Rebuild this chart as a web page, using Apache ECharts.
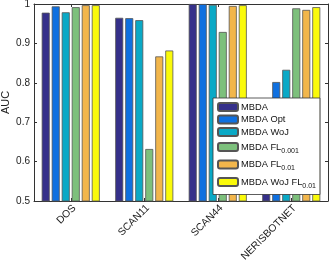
<!DOCTYPE html>
<html><head><meta charset="utf-8">
<script src="https://cdn.jsdelivr.net/npm/echarts@6/dist/echarts.min.js"></script>
<style>html,body{margin:0;padding:0;background:#fff}#c{width:332px;height:268px}</style>
</head><body><div id="c"></div>
<script>
var categories = ['DOS', 'SCAN11', 'SCAN44', 'NERISBOTNET'];
var seriesNames = ['MBDA', 'MBDA Opt', 'MBDA WoJ', 'MBDA FL0.001', 'MBDA FL0.01', 'MBDA WoJ FL0.01'];
var mbda      = [0.978, 0.965, 1.000, 0.760];
var mbdaOpt   = [0.994, 0.964, 1.000, 0.802];
var mbdaWoJ   = [0.979, 0.959, 0.998, 0.833];
var mbdaFL001 = [0.992, 0.632, 0.929, 0.989];
var mbdaFL01  = [0.997, 0.867, 0.995, 0.985];
var mbdaWoJFL01 = [0.997, 0.882, 0.997, 0.992];
var yTicks = [0.5, 0.6, 0.7, 0.8, 0.9, 1];
var values = [mbda, mbdaOpt, mbdaWoJ, mbdaFL001, mbdaFL01, mbdaWoJFL01];
var colors = ['#35308a', '#0f70e0', '#0aa9c6', '#7dc07c', '#f2b64b', '#fafa0a'];
var legendText = {
  'MBDA': '{a|MBDA}',
  'MBDA Opt': '{a|MBDA Opt}',
  'MBDA WoJ': '{a|MBDA WoJ}',
  'MBDA FL0.001': '{a|MBDA FL}{s|0.001}',
  'MBDA FL0.01': '{a|MBDA FL}{s|0.01}',
  'MBDA WoJ FL0.01': '{a|MBDA WoJ FL}{s|0.01}'
};
var font = 'Liberation Sans, Arial, sans-serif';
var chart = echarts.init(document.getElementById('c'), null, {renderer: 'canvas'});
var series = seriesNames.map(function (n, i) {
  return {
    name: n, type: 'bar', data: values[i],
    barGap: '25%', barCategoryGap: '21%',
    itemStyle: {color: colors[i], borderColor: '#555', borderWidth: 0.8}
  };
});
chart.setOption({
  animation: false,
  grid: {left: 34, right: 4, top: 4, bottom: 67, containLabel: false, outerBoundsMode: 'none'},
  legend: {
    orient: 'vertical', left: 213, top: 98,
    itemWidth: 20, itemHeight: 8, itemGap: 2.5,
    padding: [4, 4, 5, 4],
    backgroundColor: '#fff', borderColor: '#333', borderWidth: 0.8,
    formatter: function (n) { return legendText[n]; },
    textStyle: {
      fontFamily: font, fontSize: 9.3, color: '#111',
      rich: {
        a: {fontFamily: font, fontSize: 9.3, color: '#111', lineHeight: 11, padding: [0, 0, 0, -2]},
        s: {fontFamily: font, fontSize: 7, color: '#111', lineHeight: 9, padding: [8, 0, 0, 0]}
      }
    },
    data: seriesNames
  },
  xAxis: [{
    type: 'category', data: categories, position: 'bottom',
    axisLine: {show: true, lineStyle: {color: '#333', width: 1}},
    axisTick: {show: true, inside: true, alignWithLabel: true, length: 3, lineStyle: {color: '#333'}},
    axisLabel: {rotate: 45, fontFamily: font, fontSize: 10.3, color: '#222', margin: 2,
      align: 'right', verticalAlign: 'top'}
  }, {
    type: 'category', data: categories, position: 'top',
    axisLine: {show: true, lineStyle: {color: '#333', width: 1}},
    axisTick: {show: true, inside: true, alignWithLabel: true, length: 3, lineStyle: {color: '#333'}},
    axisLabel: {show: false}
  }],
  yAxis: [{
    type: 'value', min: 0.5, max: 1, interval: 0.1, position: 'left',
    name: 'AUC', nameLocation: 'middle', nameGap: 23, nameMoveOverlap: false,
    nameTextStyle: {fontFamily: font, fontSize: 11, color: '#222'},
    axisLine: {show: true, lineStyle: {color: '#333', width: 1}},
    axisTick: {show: true, inside: true, length: 3, lineStyle: {color: '#333'}},
    splitLine: {show: false},
    axisLabel: {fontFamily: font, fontSize: 10, color: '#222', margin: 4,
      formatter: function (v) { var t = yTicks.filter(function (x) { return Math.abs(x - v) < 1e-6; }); return t.length ? String(t[0]) : ''; }}
  }, {
    type: 'value', min: 0.5, max: 1, interval: 0.1, position: 'right',
    axisLine: {show: true, lineStyle: {color: '#333', width: 1}},
    axisTick: {show: true, inside: true, length: 3, lineStyle: {color: '#333'}},
    splitLine: {show: false}, axisLabel: {show: false}
  }],
  series: series
});
</script></body></html>
